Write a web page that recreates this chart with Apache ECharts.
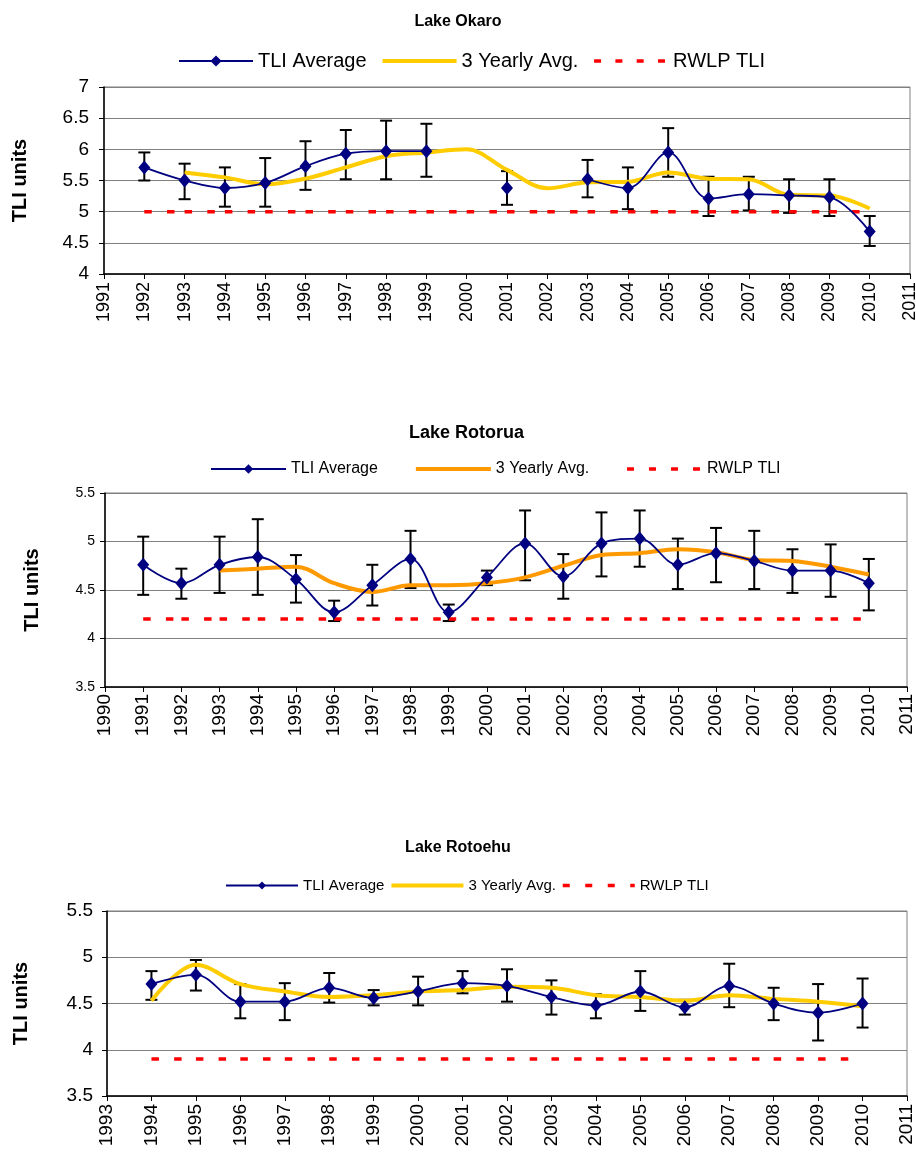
<!DOCTYPE html>
<html>
<head>
<meta charset="utf-8">
<script src="https://cdn.jsdelivr.net/npm/echarts@6/dist/echarts.min.js"></script>
<style>
  html, body { margin: 0; padding: 0; background: #ffffff; }
  .panel { position: absolute; left: 0; width: 916px; }
</style>
</head>
<body>
<div id="okaro" class="panel" style="top:0;height:400px"></div>
<div id="rotorua" class="panel" style="top:400px;height:420px"></div>
<div id="rotoehu" class="panel" style="top:820px;height:337px"></div>
<script>
// ---------- Lake Okaro ----------
const okaroYears = [1992, 1993, 1994, 1995, 1996, 1997, 1998, 1999, 2000, 2001, 2002, 2003, 2004, 2005, 2006, 2007, 2008, 2009, 2010];
const okaroTli   = [5.71, 5.50, 5.38, 5.46, 5.73, 5.93, 5.97, 5.97, null, 5.38, null, 5.52, 5.38, 5.95, 5.21, 5.28, 5.26, 5.23, 4.68];
const okaroHigh  = [5.95, 5.77, 5.71, 5.86, 6.13, 6.31, 6.46, 6.41, null, 5.65, null, 5.83, 5.71, 6.34, 5.56, 5.56, 5.52, 5.52, 4.93];
const okaroLow   = [5.50, 5.20, 5.08, 5.08, 5.35, 5.52, 5.52, 5.56, null, 5.11, null, 5.23, 5.04, 5.56, 4.93, 5.02, 4.98, 4.93, 4.45];
const okaroAvgYears = [1993, 1994, 1995, 1996, 1997, 1998, 1999, 2000, 2001, 2002, 2003, 2004, 2005, 2006, 2007, 2008, 2009, 2010];
const okaroAvg      = [5.63, 5.55, 5.44, 5.53, 5.71, 5.89, 5.95, 6.00, 5.67, 5.375, 5.47, 5.48, 5.63, 5.53, 5.52, 5.27, 5.26, 5.05];
const okaroRwlp = 5.0;
const okaroRwlpYears = [1992, 2010];

// ---------- Lake Rotorua ----------
const rotoruaYears = [1991, 1992, 1993, 1994, 1995, 1996, 1997, 1998, 1999, 2000, 2001, 2002, 2003, 2004, 2005, 2006, 2007, 2008, 2009, 2010];
const rotoruaTli   = [4.76, 4.57, 4.76, 4.84, 4.61, 4.27, 4.55, 4.82, 4.27, 4.63, 4.98, 4.64, 4.98, 5.03, 4.76, 4.88, 4.80, 4.70, 4.70, 4.57];
const rotoruaHigh  = [5.05, 4.72, 5.05, 5.23, 4.86, 4.39, 4.76, 5.11, 4.35, 4.70, 5.32, 4.87, 5.30, 5.32, 5.03, 5.14, 5.11, 4.92, 4.97, 4.82];
const rotoruaLow   = [4.45, 4.41, 4.47, 4.45, 4.37, 4.18, 4.34, 4.52, 4.18, 4.55, 4.60, 4.41, 4.64, 4.74, 4.51, 4.58, 4.51, 4.47, 4.43, 4.29];
const rotoruaAvgYears = [1993, 1994, 1995, 1996, 1997, 1998, 1999, 2000, 2001, 2002, 2003, 2004, 2005, 2006, 2007, 2008, 2009, 2010];
const rotoruaAvg      = [4.70, 4.72, 4.74, 4.57, 4.48, 4.55, 4.55, 4.57, 4.63, 4.75, 4.86, 4.88, 4.92, 4.89, 4.81, 4.80, 4.74, 4.66];
const rotoruaRwlp = 4.2;
const rotoruaRwlpYears = [1991, 2010];

// ---------- Lake Rotoehu ----------
const rotoehuYears = [1994, 1995, 1996, 1997, 1998, 1999, 2000, 2001, 2002, 2003, 2004, 2005, 2006, 2007, 2008, 2009, 2010];
const rotoehuTli   = [4.71, 4.81, 4.52, 4.52, 4.67, 4.56, 4.63, 4.72, 4.69, 4.57, 4.48, 4.63, 4.46, 4.69, 4.50, 4.40, 4.50];
const rotoehuHigh  = [4.85, 4.97, 4.71, 4.72, 4.83, 4.645, 4.79, 4.85, 4.87, 4.75, 4.60, 4.85, 4.54, 4.93, 4.67, 4.71, 4.77];
const rotoehuLow   = [4.54, 4.64, 4.34, 4.32, 4.51, 4.48, 4.48, 4.61, 4.52, 4.38, 4.34, 4.42, 4.38, 4.46, 4.32, 4.10, 4.24];
const rotoehuAvgYears = [1994, 1995, 1996, 1997, 1998, 1999, 2000, 2001, 2002, 2003, 2004, 2005, 2006, 2007, 2008, 2009, 2010];
const rotoehuAvg      = [4.53, 4.92, 4.71, 4.63, 4.57, 4.59, 4.63, 4.645, 4.68, 4.67, 4.59, 4.57, 4.53, 4.59, 4.55, 4.52, 4.47];
const rotoehuRwlp = 3.9;
const rotoehuRwlpYears = [1994, 2010];

const seriesNames = ['TLI Average', '3 Yearly Avg.', 'RWLP TLI'];
const FONT = '"Liberation Sans", Arial, Helvetica, sans-serif';

function pairs(xs, ys) { return xs.map((x, i) => [x, ys[i]]); }

function buildChart(elId, d, L) {
  const chart = echarts.init(document.getElementById(elId), null, { renderer: 'canvas' });
  // Dash pattern repeats once per year so every year segment starts with a dash
  const seg = L.grid.width / (L.xMax - L.xMin);
  const rwlpDash = [7.5, 15.2, 7.5, seg - 30.2];
  const bars = d.years.map((x, i) => [x, d.low[i], d.high[i]]).filter(r => r[1] != null);
  const cap = L.capHalf;

  chart.setOption({
    animation: false,
    textStyle: { fontFamily: FONT },
    title: {
      text: d.title, left: L.titleLeft, top: L.titleTop, padding: 0,
      textStyle: { fontFamily: FONT, fontSize: L.titleFont, fontWeight: 'bold', color: '#000' }
    },
    legend: {
      left: L.legendLeft, top: L.legendTop, padding: 0,
      itemWidth: L.legendItemWidth, itemHeight: L.legendItemHeight, itemGap: L.legendGap,
      textStyle: { fontFamily: FONT, fontSize: L.legendFont, color: '#000' },
      data: [
        { name: seriesNames[0], lineStyle: { width: 2, color: '#000080' } },
        { name: seriesNames[1], lineStyle: { width: 4, color: d.avgColor }, itemStyle: { opacity: 0 } },
        { name: seriesNames[2], lineStyle: { width: 3.5, color: '#FF0000', type: [7, L.legendDashGap], cap: 'butt' }, itemStyle: { opacity: 0 } }
      ]
    },
    grid: Object.assign({ show: true, borderColor: '#808080', borderWidth: 1, backgroundColor: '#fff', outerBoundsMode: 'none' }, L.grid),
    xAxis: {
      type: 'value', min: L.xMin, max: L.xMax, interval: 1,
      axisLine: { show: true, onZero: false, lineStyle: { color: '#000', width: 1.5 } },
      axisTick: { show: true, length: 5, lineStyle: { color: '#000', width: 1 } },
      axisLabel: { rotate: 90, fontSize: L.xFont, color: '#000', margin: L.xLabelMargin, fontFamily: FONT, formatter: v => String(v) },
      splitLine: { show: false }
    },
    yAxis: {
      type: 'value', min: L.yMin, max: L.yMax, interval: 0.5,
      name: 'TLI units', nameLocation: 'middle', nameGap: L.nameGap,
      nameTextStyle: { fontFamily: FONT, fontSize: 20, fontWeight: 'bold', color: '#000' },
      axisLine: { show: true, lineStyle: { color: '#000', width: 1.5 } },
      axisTick: { show: true, length: 5, lineStyle: { color: '#000', width: 1 } },
      axisLabel: { fontSize: L.yFont, color: '#000', margin: L.yLabelMargin, fontFamily: FONT },
      splitLine: { show: true, lineStyle: { color: '#808080', width: 1 } }
    },
    series: [
      {
        name: 'error', type: 'custom', z: 1, silent: true,
        data: bars, encode: { x: 0, y: [1, 2] },
        renderItem: function (params, api) {
          const x = api.value(0);
          const lo = api.coord([x, api.value(1)]);
          const hi = api.coord([x, api.value(2)]);
          const st = { stroke: '#000', lineWidth: 2 };
          return {
            type: 'group',
            children: [
              { type: 'line', shape: { x1: lo[0], y1: lo[1], x2: hi[0], y2: hi[1] }, style: st },
              { type: 'line', shape: { x1: hi[0] - cap, y1: hi[1], x2: hi[0] + cap, y2: hi[1] }, style: st },
              { type: 'line', shape: { x1: lo[0] - cap, y1: lo[1], x2: lo[0] + cap, y2: lo[1] }, style: st }
            ]
          };
        }
      },
      {
        name: seriesNames[1], type: 'line', z: 2, smooth: 0.35, symbol: 'none',
        data: pairs(d.avgYears, d.avg),
        lineStyle: { color: d.avgColor, width: 4 }, itemStyle: { color: d.avgColor }
      },
      {
        name: seriesNames[2], type: 'line', z: 3, symbol: 'none',
        data: d.rwlpYears.map(y => [y, d.rwlp]),
        lineStyle: { color: '#FF0000', width: 3.5, type: rwlpDash, cap: 'butt' }, itemStyle: { color: '#FF0000' }
      },
      {
        name: seriesNames[0], type: 'line', z: 4, smooth: 0.35, connectNulls: false,
        symbol: 'diamond', symbolSize: [12, 14],
        data: pairs(d.years, d.tli),
        lineStyle: { color: '#000080', width: 1.8 }, itemStyle: { color: '#000080' }
      }
    ]
  });
  return chart;
}

buildChart('okaro', {
  title: 'Lake Okaro', years: okaroYears, tli: okaroTli, high: okaroHigh, low: okaroLow,
  avgYears: okaroAvgYears, avg: okaroAvg, avgColor: '#FFCC00', rwlp: okaroRwlp, rwlpYears: okaroRwlpYears
}, {
  grid: { left: 104, top: 87, width: 806, height: 187 },
  xMin: 1991, xMax: 2011, yMin: 4, yMax: 7,
  titleLeft: 'center', titleTop: 14, titleFont: 16,
  legendLeft: 178, legendTop: 51, legendItemWidth: 74, legendItemHeight: 14, legendGap: 14, legendFont: 20, legendDashGap: 14.3,
  xFont: 18, xLabelMargin: 8, yFont: 19, yLabelMargin: 15, nameGap: 74, capHalf: 6
});

buildChart('rotorua', {
  title: 'Lake Rotorua', years: rotoruaYears, tli: rotoruaTli, high: rotoruaHigh, low: rotoruaLow,
  avgYears: rotoruaAvgYears, avg: rotoruaAvg, avgColor: '#FF9900', rwlp: rotoruaRwlp, rwlpYears: rotoruaRwlpYears
}, {
  grid: { left: 105, top: 93, width: 802, height: 194 },
  xMin: 1990, xMax: 2011, yMin: 3.5, yMax: 5.5,
  titleLeft: 409, titleTop: 24, titleFont: 18,
  legendLeft: 210, legendTop: 61, legendItemWidth: 75, legendItemHeight: 12, legendGap: 36, legendFont: 16, legendDashGap: 15,
  xFont: 19, xLabelMargin: 7, yFont: 14, yLabelMargin: 10, nameGap: 63, capHalf: 6
});

buildChart('rotoehu', {
  title: 'Lake Rotoehu', years: rotoehuYears, tli: rotoehuTli, high: rotoehuHigh, low: rotoehuLow,
  avgYears: rotoehuAvgYears, avg: rotoehuAvg, avgColor: '#FFCC00', rwlp: rotoehuRwlp, rwlpYears: rotoehuRwlpYears
}, {
  grid: { left: 107, top: 91, width: 800, height: 185 },
  xMin: 1993, xMax: 2011, yMin: 3.5, yMax: 5.5,
  titleLeft: 'center', titleTop: 20, titleFont: 16,
  legendLeft: 225, legendTop: 58, legendItemWidth: 72, legendItemHeight: 10, legendGap: 5, legendFont: 15, legendDashGap: 15.5,
  xFont: 19, xLabelMargin: 8, yFont: 19, yLabelMargin: 14, nameGap: 76, capHalf: 6
});
</script>
</body>
</html>
